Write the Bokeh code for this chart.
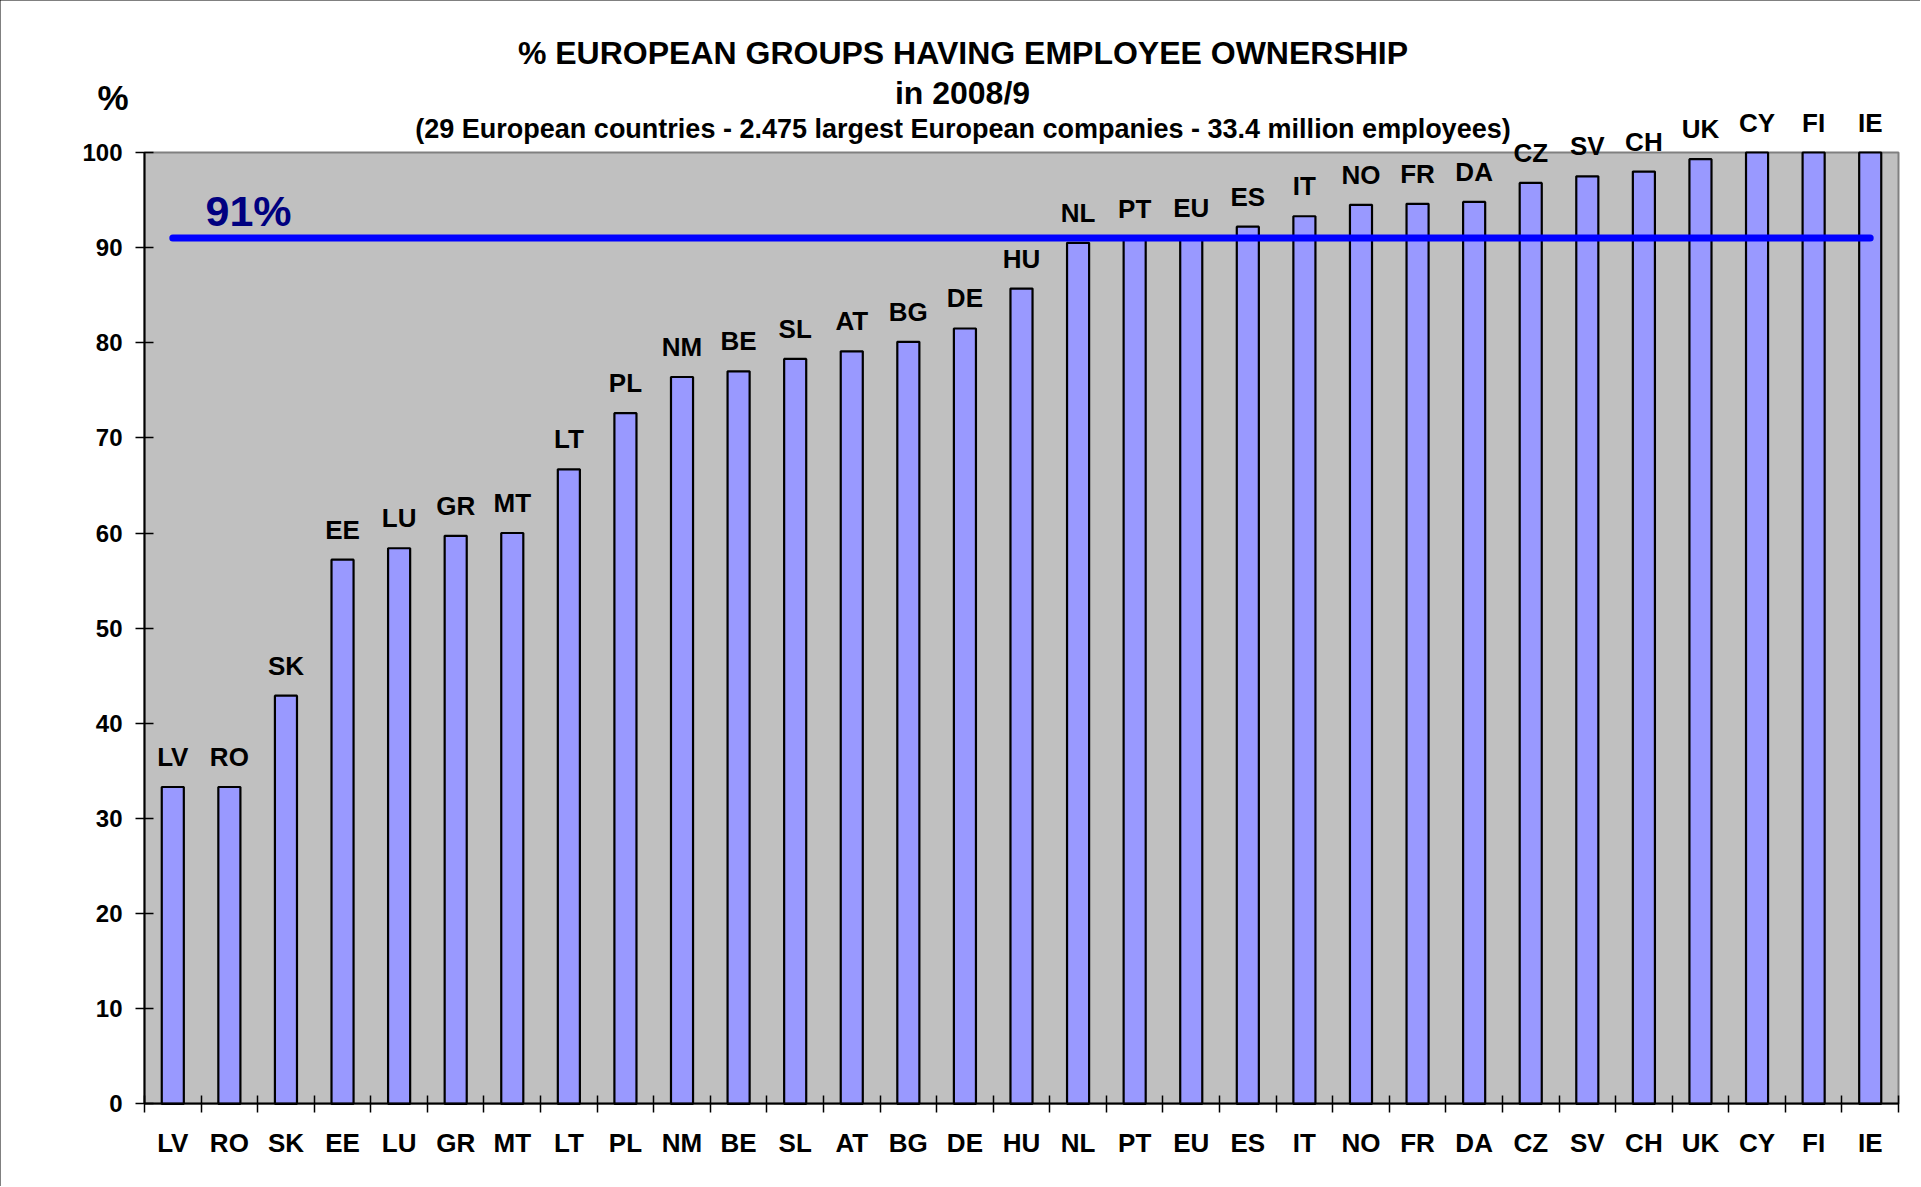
from bokeh.plotting import figure
from bokeh.models import Range1d, FixedTicker, Label, LabelSet, ColumnDataSource
from bokeh.core.properties import value
from bokeh.embed import file_html
from bokeh.resources import INLINE

# ---- data ----
countries = ["LV", "RO", "SK", "EE", "LU", "GR", "MT", "LT", "PL", "NM", "BE",
             "SL", "AT", "BG", "DE", "HU", "NL", "PT", "EU", "ES", "IT", "NO",
             "FR", "DA", "CZ", "SV", "CH", "UK", "CY", "FI", "IE"]
values = [33.3, 33.3, 42.9, 57.2, 58.4, 59.7, 60.0, 66.7, 72.6, 76.4, 77.0,
          78.3, 79.1, 80.1, 81.5, 85.7, 90.5, 90.9, 91.0, 92.2, 93.3, 94.5,
          94.6, 94.8, 96.8, 97.5, 98.0, 99.3, 100.0, 100.0, 100.0]
average = 91
y_ticks = [0, 10, 20, 30, 40, 50, 60, 70, 80, 90, 100]
y_max = 100
title_line1 = "% EUROPEAN GROUPS HAVING EMPLOYEE OWNERSHIP"
title_line2 = "in 2008/9"
subtitle = "(29 European countries - 2.475 largest European companies - 33.4 million employees)"
y_unit = "%"

FONT = "Liberation Sans"

n = len(countries)
centers = [i + 0.5 for i in range(n)]
boundaries = list(range(n + 1))

# ---- layout (pixels in the page) ----
W, H = 1920, 1186
PL, PR, PT_, PB = 144, 1898, 152, 1103.3   # plot area edges
ux = n / (PR - PL)          # data units per px (x)
uy = y_max / (PB - PT_)     # data units per px (y)

def dx(px):
    return (px - PL) * ux

def dy(py):
    return (PB - py) * uy

p = figure(width=W, height=H, output_backend="svg", toolbar_location=None,
           x_range=Range1d(dx(0), dx(W)), y_range=Range1d(dy(H), dy(0)),
           min_border=0, min_border_left=0, min_border_right=0,
           min_border_top=0, min_border_bottom=0)
p.styles = {"outline": "2px solid #000000", "outline-offset": "-2px"}

p.background_fill_color = "#FFFFFF"
p.border_fill_color = "#FFFFFF"
p.outline_line_color = None
p.xgrid.visible = False
p.ygrid.visible = False

# plot area background
p.quad(left=0, right=n, bottom=0, top=y_max, fill_color="#C0C0C0",
       line_color="#808080", line_width=2)

src = ColumnDataSource(dict(x=centers, top=values, name=countries))
p.vbar(x="x", top="top", bottom=0, width=0.39, source=src,
       fill_color="#9999FF", line_color="#000000", line_width=2.2)

p.line(x=[centers[0], centers[-1]], y=[average, average],
       line_color="#0000FF", line_width=7, line_cap="round")

labels = LabelSet(x="x", y="top", text="name", source=src, y_offset=21,
                  text_align="center", text_baseline="alphabetic",
                  text_font=value(FONT), text_font_style="bold",
                  text_font_size="26px", text_color="#000000")
p.add_layout(labels)

# x axis
xa = p.xaxis[0]
xa.fixed_location = 0
xa.bounds = (0, n)
xa.ticker = FixedTicker(ticks=centers, minor_ticks=boundaries)
xa.major_label_overrides = {c: name for c, name in zip(centers, countries)}
xa.major_tick_in = 0
xa.major_tick_out = 0
xa.minor_tick_in = 8
xa.minor_tick_out = 9
xa.minor_tick_line_color = "#000000"
xa.minor_tick_line_width = 1.5
xa.axis_line_color = "#000000"
xa.axis_line_width = 2
xa.major_label_text_font = FONT
xa.major_label_text_font_style = "bold"
xa.major_label_text_font_size = "26px"
xa.major_label_text_color = "#000000"
xa.major_label_standoff = 15

# y axis
ya = p.yaxis[0]
ya.fixed_location = 0
ya.bounds = (0, y_max)
ya.ticker = FixedTicker(ticks=y_ticks, minor_ticks=[])
ya.major_tick_in = 9
ya.major_tick_out = 9
ya.major_tick_line_color = "#000000"
ya.major_tick_line_width = 1.5
ya.axis_line_color = "#000000"
ya.axis_line_width = 2
ya.major_label_text_font = FONT
ya.major_label_text_font_style = "bold"
ya.major_label_text_font_size = "24px"
ya.major_label_text_color = "#000000"
ya.major_label_standoff = 13

# titles
for txt, px, py, fs in [(title_line1, 962.5, 52, "32px"),
                        (title_line2, 962, 92.3, "32px"),
                        (subtitle, 962.5, 128.4, "27px")]:
    p.add_layout(Label(x=dx(px), y=dy(py), text=txt, text_align="center",
                       text_baseline="alphabetic", text_font=FONT,
                       text_font_style="bold", text_font_size=fs,
                       text_color="#000000"))

p.add_layout(Label(x=dx(97), y=dy(97.3), text=y_unit,
                   text_align="left", text_baseline="alphabetic",
                   text_font=FONT, text_font_style="bold",
                   text_font_size="35px", text_color="#000000"))

p.add_layout(Label(x=dx(205), y=dy(210.7), text=f"{average}%",
                   text_align="left", text_baseline="alphabetic",
                   text_font=FONT, text_font_style="bold",
                   text_font_size="43px", text_color="#000080"))

open("out.html", "w").write(file_html(p, INLINE))
